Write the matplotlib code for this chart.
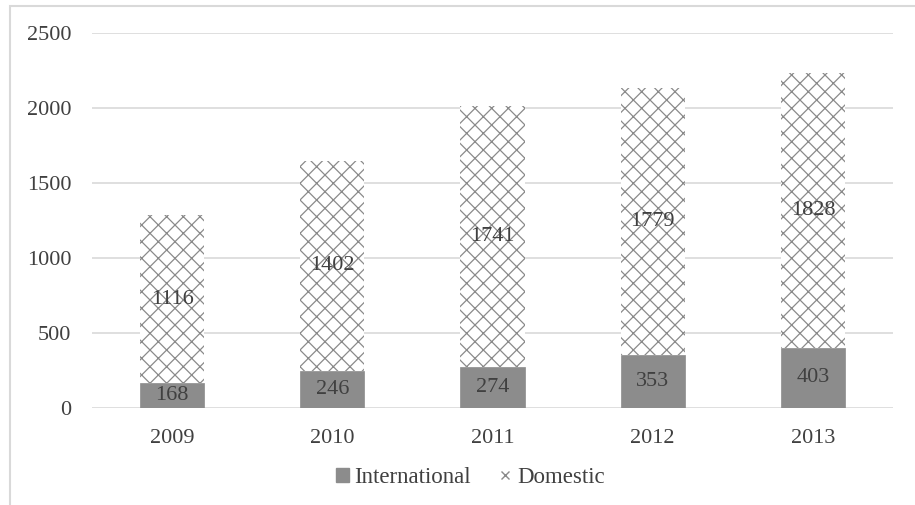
import numpy as np
import matplotlib.pyplot as plt
from matplotlib.patches import Patch, Rectangle
from matplotlib.lines import Line2D

years = ["2009", "2010", "2011", "2012", "2013"]
international = [168, 246, 274, 353, 403]
domestic = [1116, 1402, 1741, 1779, 1828]

plt.rcParams["font.family"] = ["Liberation Serif", "DejaVu Serif"]
plt.rcParams["hatch.color"] = "#7f7f7f"
plt.rcParams["hatch.linewidth"] = 0.9
text_col = "#404040"

fig = plt.figure(figsize=(9.15, 5.05), dpi=100)
ax = fig.add_axes([0.1005, 0.192, 0.8755, 0.7427])

x = np.arange(len(years))
w = 0.4
ax.bar(x, international, w, color="#8c8c8c", edgecolor="#8c8c8c", linewidth=0.5,
       label="International", zorder=3)
ax.bar(x, domestic, w, bottom=international, color="white", edgecolor="#8a8a8a",
       linewidth=0, hatch="xx", label="Domestic", zorder=3)

for i in range(len(years)):
    ax.text(x[i], international[i] / 2, str(international[i]), ha="center", va="center",
            fontsize=16, color=text_col, zorder=4)
    ax.text(x[i], international[i] + domestic[i] / 2, str(domestic[i]), ha="center",
            va="center", fontsize=16, color=text_col, zorder=4)

ax.set_xlim(-0.5, len(years) - 0.5)
ax.set_ylim(0, 2500)
ax.set_yticks(range(0, 2501, 500))
ax.set_xticks(x)
ax.set_xticklabels(years)
ax.yaxis.grid(True, color="#d9d9d9", linewidth=1.2, zorder=0)
ax.set_axisbelow(True)
for s in ax.spines.values():
    s.set_visible(False)
ax.tick_params(axis="both", length=0, labelsize=16, labelcolor=text_col)
ax.tick_params(axis="y", pad=15)
ax.tick_params(axis="x", pad=15)

handles = [Patch(facecolor="#8c8c8c", edgecolor="#8c8c8c", label="International"),
           Line2D([], [], linestyle="none", marker="x", markersize=6, color="#8a8a8a",
                  markeredgewidth=1.0, label="Domestic")]
fig.legend(handles=handles, loc="center", bbox_to_anchor=(0.514, 0.055), ncol=2,
           frameon=False, fontsize=16.5, labelcolor=text_col, handlelength=0.55,
           handleheight=0.55, handletextpad=0.25, columnspacing=1.2)

# light frame around the chart area
fig.patches.append(Rectangle((10 / 915, -0.02), 1.0, 1 - 6 / 505 + 0.02,
                             transform=fig.transFigure, fill=False,
                             edgecolor="#d9d9d9", linewidth=1.5))

fig.savefig("out.png", dpi=100)
